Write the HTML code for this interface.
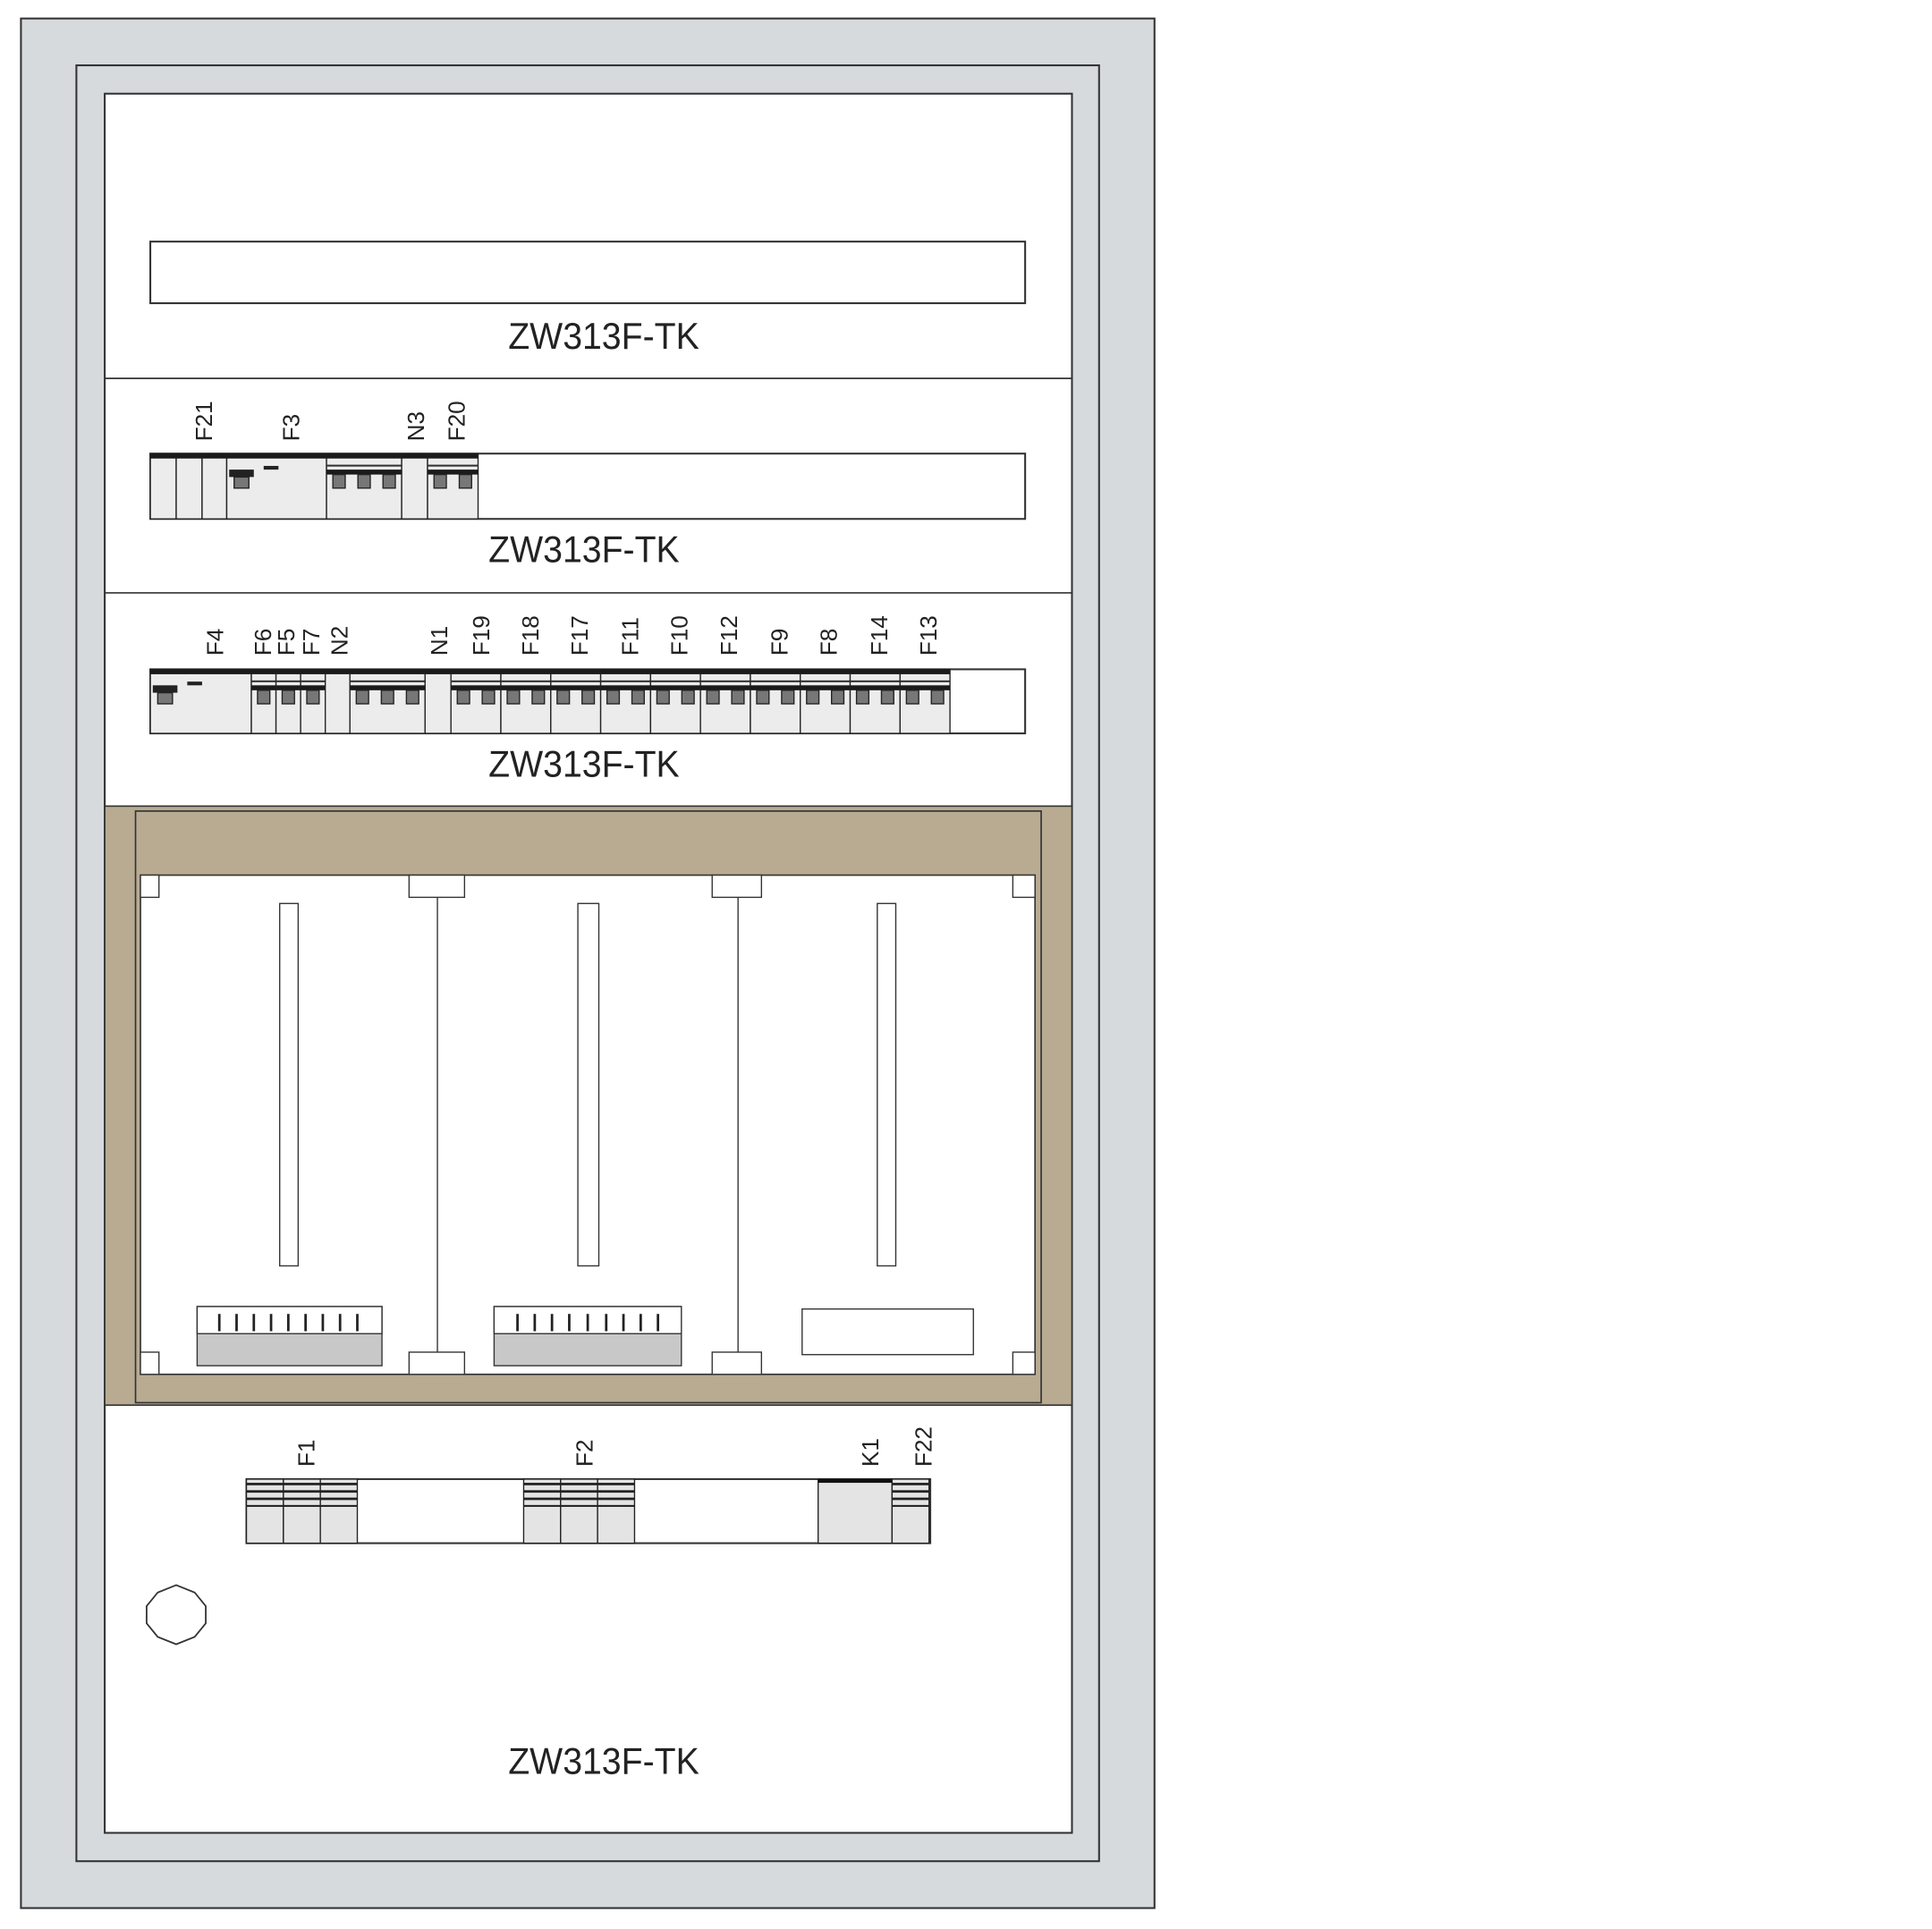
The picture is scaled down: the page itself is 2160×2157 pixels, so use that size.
<!DOCTYPE html>
<html><head><meta charset="utf-8"><style>html,body{margin:0;padding:0;background:#fff}svg{display:block}</style></head>
<body>
<svg id="s" width="2160" height="2157" viewBox="0 0 1568 1565" preserveAspectRatio="none" xmlns="http://www.w3.org/2000/svg" font-family="'Liberation Sans Narrow','Liberation Sans',sans-serif">
<rect x="17" y="15" width="920" height="1533" fill="#d6dadd" stroke="#333" stroke-width="1.5"/>
<rect x="62" y="53" width="830" height="1457" fill="#d6dadd" stroke="#333" stroke-width="1.5"/>
<rect x="85" y="76" width="785" height="1411" fill="#fff" stroke="#333" stroke-width="1.5"/>
<line x1="85" y1="307" x2="870" y2="307" stroke="#333" stroke-width="1.2"/>
<line x1="85" y1="481" x2="870" y2="481" stroke="#333" stroke-width="1.2"/>
<rect x="85" y="654" width="785" height="486" fill="#b8ab92" stroke="#333" stroke-width="1.2"/>
<rect x="110" y="658" width="735" height="480" fill="#b8ab92" stroke="#333" stroke-width="1.2"/>
<rect x="114" y="710" width="726" height="405" fill="#fff" stroke="#333" stroke-width="1.2"/>
<g stroke="#333" stroke-width="1" fill="#fff">
<line x1="355" y1="710" x2="355" y2="1115"/><line x1="599" y1="710" x2="599" y2="1115"/>
<rect x="114" y="710" width="15" height="18"/><rect x="114" y="1097" width="15" height="18"/>
<rect x="822" y="710" width="18" height="18"/><rect x="822" y="1097" width="18" height="18"/>
<rect x="332" y="710" width="45" height="18"/><rect x="332" y="1097" width="45" height="18"/>
<rect x="578" y="710" width="40" height="18"/><rect x="578" y="1097" width="40" height="18"/>
<rect x="227" y="733" width="15" height="294"/><rect x="469" y="733" width="17" height="294"/><rect x="712" y="733" width="15" height="294"/>
<rect x="160" y="1060" width="150" height="48" fill="#c8c8c8"/>
<rect x="401" y="1060" width="152" height="48" fill="#c8c8c8"/>
<rect x="160" y="1060" width="150" height="22" fill="#fff"/>
<rect x="401" y="1060" width="152" height="22" fill="#fff"/>
<rect x="651" y="1062" width="139" height="37"/>
</g>
<g stroke="#222" stroke-width="2">
<line x1="178" y1="1066" x2="178" y2="1080"/><line x1="192" y1="1066" x2="192" y2="1080"/><line x1="206" y1="1066" x2="206" y2="1080"/><line x1="220" y1="1066" x2="220" y2="1080"/><line x1="234" y1="1066" x2="234" y2="1080"/><line x1="248" y1="1066" x2="248" y2="1080"/><line x1="262" y1="1066" x2="262" y2="1080"/><line x1="276" y1="1066" x2="276" y2="1080"/><line x1="290" y1="1066" x2="290" y2="1080"/>
<line x1="420" y1="1066" x2="420" y2="1080"/><line x1="434" y1="1066" x2="434" y2="1080"/><line x1="448" y1="1066" x2="448" y2="1080"/><line x1="462" y1="1066" x2="462" y2="1080"/><line x1="477" y1="1066" x2="477" y2="1080"/><line x1="492" y1="1066" x2="492" y2="1080"/><line x1="506" y1="1066" x2="506" y2="1080"/><line x1="520" y1="1066" x2="520" y2="1080"/><line x1="534" y1="1066" x2="534" y2="1080"/>
</g>
<rect x="122" y="196" width="710" height="50" fill="#fff" stroke="#333" stroke-width="1.5"/>
<rect x="122" y="368" width="710" height="53" fill="#fff" stroke="#333" stroke-width="1.5"/>
<rect x="122" y="543" width="710" height="52" fill="#fff" stroke="#333" stroke-width="1.5"/>
<rect x="200" y="1200" width="555" height="52" fill="#fff" stroke="#333" stroke-width="1.5"/>
<g id="br"></g>
<polygon points="143,1286 158,1292 167,1303 167,1317 158,1328 143,1334 128,1328 119,1317 119,1303 128,1292" fill="#fff" stroke="#333" stroke-width="1.3"/>
<g font-size="30" fill="#222" text-anchor="middle">
<text x="490" y="283" textLength="155" lengthAdjust="spacingAndGlyphs">ZW313F-TK</text>
<text x="474" y="456" textLength="155" lengthAdjust="spacingAndGlyphs">ZW313F-TK</text>
<text x="474" y="630" textLength="155" lengthAdjust="spacingAndGlyphs">ZW313F-TK</text>
<text x="490" y="1439" textLength="155" lengthAdjust="spacingAndGlyphs">ZW313F-TK</text>
</g>
<g font-size="19" fill="#222">
<text transform="translate(172,358) rotate(-90)">F21</text>
<text transform="translate(243,358) rotate(-90)">F3</text>
<text transform="translate(344,358) rotate(-90)">N3</text>
<text transform="translate(377,358) rotate(-90)">F20</text>
<text transform="translate(181,532) rotate(-90)">F4</text>
<text transform="translate(220,532) rotate(-90)">F6</text>
<text transform="translate(239,532) rotate(-90)">F5</text>
<text transform="translate(259,532) rotate(-90)">F7</text>
<text transform="translate(282,532) rotate(-90)">N2</text>
<text transform="translate(363,532) rotate(-90)">N1</text>
<text transform="translate(397,532) rotate(-90)">F19</text>
<text transform="translate(437,532) rotate(-90)">F18</text>
<text transform="translate(477,532) rotate(-90)">F17</text>
<text transform="translate(518,532) rotate(-90)">F11</text>
<text transform="translate(558,532) rotate(-90)">F10</text>
<text transform="translate(598,532) rotate(-90)">F12</text>
<text transform="translate(639,532) rotate(-90)">F9</text>
<text transform="translate(679,532) rotate(-90)">F8</text>
<text transform="translate(720,532) rotate(-90)">F14</text>
<text transform="translate(760,532) rotate(-90)">F13</text>
<text transform="translate(255,1190) rotate(-90)">F1</text>
<text transform="translate(481,1190) rotate(-90)">F2</text>
<text transform="translate(713,1190) rotate(-90)">K1</text>
<text transform="translate(756,1190) rotate(-90)">F22</text>
</g>
</svg>
<script>
var g=document.getElementById('br'),NS='http://www.w3.org/2000/svg';
function r(x,y,w,h,f,sw){var e=document.createElementNS(NS,'rect');e.setAttribute('x',x);e.setAttribute('y',y);e.setAttribute('width',w);e.setAttribute('height',h);e.setAttribute('fill',f);if(sw){e.setAttribute('stroke','#222');e.setAttribute('stroke-width',sw);}g.appendChild(e);}
function mod(x,w,y,h,p,tog){r(x,y,w,h,'#ececec',1);r(x,y,w,4,'#1a1a1a');
 if(tog){r(x,y+9,w,1.5,'#333');r(x,y+13,w,4,'#1a1a1a');var pw=w/p;for(var i=0;i<p;i++){r(x+i*pw+pw/2-5,y+17,10,11,'#777',1);}}}
function wide(x,w,y,h){r(x,y,w,h,'#ececec',1);r(x,y,w,4,'#1a1a1a');r(x+2,y+13,20,6,'#222');r(x+6,y+19,12,9,'#777',1);r(x+30,y+10,12,3,'#222');}
var y=368,h=53;
mod(122,21,y,h,1,0);mod(143,21,y,h,1,0);mod(164,20,y,h,1,0);wide(184,81,y,h);
mod(265,61,y,h,3,1);mod(326,21,y,h,1,0);mod(347,41,y,h,2,1);
y=543;h=52;
wide(122,82,y,h);mod(204,20,y,h,1,1);mod(224,20,y,h,1,1);mod(244,20,y,h,1,1);mod(264,20,y,h,1,0);
mod(284,61,y,h,3,1);mod(345,21,y,h,1,0);
for(var i=0;i<10;i++){mod(366+i*40.5,40.5,y,h,2,1);}
y=1200;h=52;
function bm(x){r(x,y,30,h,'#e4e4e4',1);r(x,y+3,30,2,'#222');r(x,y+9,30,2,'#222');r(x,y+15,30,2,'#222');r(x,y+21,30,1.5,'#222');}
[200,230,260,425,455,485].forEach(bm);
r(664,y,60,h,'#e4e4e4',1);r(664,y,60,3,'#111');bm(724);
</script>
</body></html>
